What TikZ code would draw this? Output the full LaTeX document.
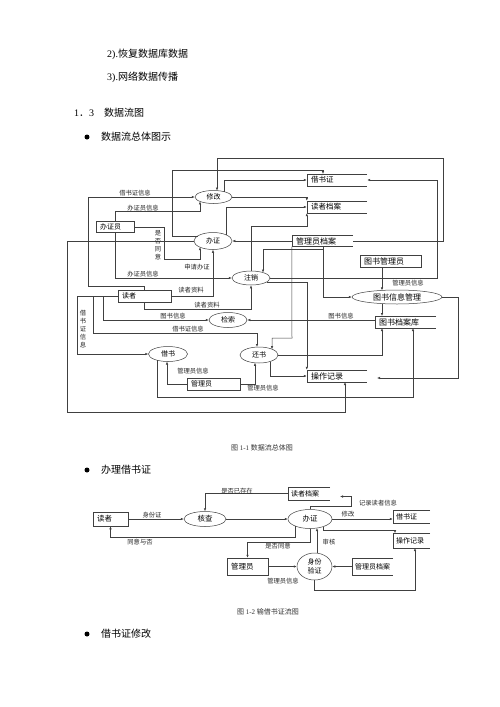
\documentclass[tikz,border=0pt]{standalone}
\usepackage{fontspec}
\setmainfont{Liberation Serif}
\newfontfamily\cjk{Noto Sans CJK SC}
\usetikzlibrary{shapes.geometric,arrows.meta}
\newcommand\myfs[1]{\fontsize{#1}{#1}\selectfont}
\newcommand\dstore[1]{\draw[ln] (#1.north east) -- (#1.north west) -- (#1.south west) -- (#1.south east);}
\begin{document}
\begin{tikzpicture}[x=1pt,y=-1pt,
  ln/.style={draw=black!75, line width=0.5pt},
  arr/.style={ln, -{Latex[length=3pt,width=2.4pt]}},
  body/.style={inner sep=0pt, font=\myfs{10}},
  capt/.style={inner sep=0pt, font=\myfs{7}, text=black!80},
  dot/.style={circle, fill=black, inner sep=0pt, minimum size=5pt},
  proc/.style={ellipse, draw=black!75, line width=0.5pt, inner sep=0pt, font=\cjk\myfs{7}},
  store/.style={rectangle, inner xsep=4pt, inner ysep=0pt, minimum height=12pt, align=left, font=\cjk\myfs{7.5}},
  ent/.style={rectangle, draw=black!75, line width=0.5pt, inner xsep=4pt, inner ysep=0pt, align=left, font=\cjk\myfs{7}},
  lbl/.style={inner sep=0pt, font=\cjk\myfs{6.3}, text=black!85},
  proc2/.style={ellipse, draw=black!75, line width=0.5pt, inner sep=0pt, font=\cjk\myfs{7.5}},
  store2/.style={rectangle, inner xsep=3pt, inner ysep=0pt, minimum height=13pt, align=left, font=\cjk\myfs{7}},
  ent2/.style={rectangle, draw=black!75, line width=0.5pt, inner xsep=4pt, inner ysep=0pt, align=left, font=\cjk\myfs{7.5}},
]
\useasboundingbox (0,0) rectangle (500,707);
\fill[white] (0,0) rectangle (500,707);

% ---------- top text ----------
\node[body, anchor=west] (t1) at (107,54) {2).{\cjk 恢复数据库数据}};
\node[body, anchor=west] (t2) at (107,77) {3).{\cjk 网络数据传播}};
\node[body, anchor=west] (t3) at (74,113) {1{\cjk ．}3};
\node[body, anchor=west] (t4) at (104,113) {\cjk 数据流图};
\node[dot] (b1) at (87,137) {};
\node[body, anchor=west] (t5) at (101,137) {\cjk 数据流总体图示};

% ---------- diagram 1 nodes ----------
\node[proc, minimum width=37pt, minimum height=13pt] (xg) at (213.5,197) {修改};
\node[proc, minimum width=38pt, minimum height=17pt] (bz) at (213,241) {办证};
\node[proc, minimum width=38pt, minimum height=14pt] (zx) at (251,278) {注销};
\node[proc, minimum width=38pt, minimum height=15pt] (js) at (228,320) {检索};
\node[proc, minimum width=39pt, minimum height=15pt] (jie) at (168,354) {借书};
\node[proc, minimum width=38pt, minimum height=16pt] (hs) at (259,355) {还书};
\node[proc, minimum width=90pt, minimum height=14pt, font=\cjk\myfs{8}] (gl) at (397,297) {图书信息管理};

\node[store, text width=52pt] (jsz) at (337,180) {借书证};
\node[store, text width=52pt] (dzda) at (337,207) {读者档案};
\node[store, text width=53pt, minimum height=11pt, font=\cjk\myfs{8}] (glyda) at (322.5,241) {管理员档案};
\node[store, text width=53pt, font=\cjk\myfs{8}] (tsda) at (405.5,322) {图书档案库};
\node[store, text width=52pt, font=\cjk\myfs{8}] (czjl) at (337,376) {操作记录};
\dstore{jsz}\dstore{dzda}\dstore{glyda}\dstore{tsda}\dstore{czjl}

\node[ent, text width=30pt, minimum height=11pt] (bzy) at (115,227) {办证员};
\node[ent, text width=45pt, minimum height=12pt] (dz) at (144.5,296) {读者};
\node[ent, text width=45pt, minimum height=12pt] (gly) at (213.5,384) {管理员};
\node[ent, text width=53pt, minimum height=12pt, font=\cjk\myfs{8}] (tsgly) at (390.5,261) {图书管理员};

% ---------- diagram 1 connectors ----------
\draw[arr] (glyda.east) -- (443,241) -- (443,158) -| (217,190.6);
\draw[arr] (zx.east) -| (437,180) -- (jsz.east);
\draw[arr] (224,191.6) |- (jsz.west);
\draw[arr] (197.6,236) -- (172,236) -- (172,170) -| (323,174);
\draw[arr] (xg.east) -| (dzda.north west);
\draw[arr] (226,234.8) |- (dzda.west);
\draw[arr] (zx.north) -- (251,226) -| (dzda.south west);
\draw[arr] (bzy.north) |- (200,211) -- (200,201.4);
\draw[arr] (dz.north) -- (144.5,286) -- (88,286) |- (xg.west);
\draw[arr] (bzy.east) -- (164,227) -- (164,259) -- (200,259) -- (200,247.2);
\draw[arr] (bzy.south) |- (zx.west);
\draw[arr] (dz.east) -| (bz.south);
\draw[arr] (dz.south) -- (144.5,309) -| (zx.south);
\draw[ln] (dz.west) -- (77,296);
\draw[arr] (103,296) |- (js.west);
\draw[arr] (93,296) |- (257,333) -- (257,347);
\draw[arr] (77,296) |- (jie.west);
\draw[arr] (tsda.west |- js.east) -- (js.east);
\draw[arr] (glyda.west) -- (bz.east);
\draw[arr] (323,246.5) |- (gl.west);
\draw[arr] (323,249) -| (263,272.6);
\draw[arr] (glyda.south west) -- (292,338) -| (272,349.2);
\draw[arr] (266.6,282) -| (czjl.north west);
\draw[arr] (382,267) -- (382,290.4);
\draw[arr] (382,303.6) -- (382,316);
\draw[arr] (gl.east) -- (458,297) |- (377,378);
\draw[arr] (hs.east) -| (382,328);
\draw[arr] (270,361.5) |- (czjl.west);
\draw[arr] (157,360.2) |- (413,397) -- (413,328);
\draw[arr] (gly.west) -| (167,361.5);
\draw[arr] (gly.east) -| (255,362.8);
\draw[arr] (bz.west) -- (67,241) |- (345,412) -- (345,382);

% ---------- diagram 1 labels ----------
\node[lbl] (l1) at (135,193) {借书证信息};
\node[lbl] (l2) at (143,208) {办证员信息};
\node[lbl, align=center, font=\cjk\fontsize{6.3}{8}\selectfont] (l3) at (158,245) {是\\否\\同\\意};
\node[lbl] (l4) at (197,267) {申请办证};
\node[lbl] (l5) at (143,274) {办证员信息};
\node[lbl] (l6) at (191,290) {读者资料};
\node[lbl] (l7) at (207,305) {读者资料};
\node[lbl] (l8) at (173,316.5) {图书信息};
\node[lbl] (l9) at (188,329) {借书证信息};
\node[lbl, align=center, font=\cjk\fontsize{6.3}{8}\selectfont] (l10) at (83,329) {借\\书\\证\\信\\息};
\node[lbl] (l11) at (193,371) {管理员信息};
\node[lbl] (l12) at (263,388) {管理员信息};
\node[lbl] (l13) at (408,283.5) {管理员信息};
\node[lbl] (l14) at (341,316.5) {图书信息};

\node[capt] (c1) at (262,448) {{\cjk 图} 1-1 {\cjk 数据流总体图}};

% ---------- section 2 ----------
\node[dot] (b2) at (87,470) {};
\node[body, anchor=west] (t6) at (101,470) {\cjk 办理借书证};

\node[ent2, text width=27pt, minimum height=14pt] (dz2) at (110.5,519) {读者};
\node[proc2, minimum width=42pt, minimum height=15pt] (hc) at (205,519) {核查};
\node[store2, text width=36pt] (dzda2) at (309,493.5) {读者档案};
\node[proc2, minimum width=44pt, minimum height=19pt] (bz2) at (310,519) {办证};
\node[store2, text width=31pt] (jsz2) at (411.5,516.5) {借书证};
\node[store2, text width=31pt, minimum height=15pt] (czjl2) at (411.5,540.5) {操作记录};
\node[proc2, minimum width=35pt, minimum height=27pt, align=center, font=\cjk\fontsize{7}{9}\selectfont] (sf) at (314.5,566.5) {身份\\验证};
\node[store2, text width=35pt, minimum height=17pt] (glyda2) at (372.5,566.5) {管理员档案};
\node[ent2, text width=33pt, minimum height=17pt] (gly2) at (247.5,566.5) {管理员};
\dstore{dzda2}\dstore{jsz2}\dstore{czjl2}\dstore{glyda2}

\draw[arr] (dz2.east) -- (hc.west);
\draw[arr] (dzda2.west) -| (hc.north);
\draw[arr] (hc.east) -- (bz2.west);
\draw[arr] (295,526) -- (295,537) -| (dz2.south);
\draw[arr] (bz2.south) -- (310,542) -| (gly2.north);
\draw[arr] (bz2.north) -- (310,506.5) -- (351.5,506.5) |- (340,496.5);
\draw[arr] (bz2.east) -- (jsz2.west |- bz2.east);
\draw[arr] (323,526.7) -- (323,530) -| (395,533.2);
\draw[arr] (317,553.1) -- (317,528);
\draw[arr] (glyda2.west) -- (sf.east);
\draw[arr] (gly2.east) -- (sf.west);
\draw[arr] (sf.south) -- (314.5,590) -| (415,548);

\node[lbl] (m1) at (152,515) {身份证};
\node[lbl] (m2) at (237,491) {是否已存在};
\node[lbl] (m3) at (140,542) {同意与否};
\node[lbl] (m4) at (278,546.5) {是否同意};
\node[lbl] (m5) at (378,503) {记录读者信息};
\node[lbl] (m6) at (348,514) {修改};
\node[lbl] (m7) at (329,542) {审核};
\node[lbl] (m8) at (283,581) {管理员信息};

\node[capt] (c2) at (268,612) {{\cjk 图} 1-2 {\cjk 输借书证流图}};

\node[dot] (b3) at (87,634) {};
\node[body, anchor=west] (t7) at (101,634) {\cjk 借书证修改};
\end{tikzpicture}
\end{document}
